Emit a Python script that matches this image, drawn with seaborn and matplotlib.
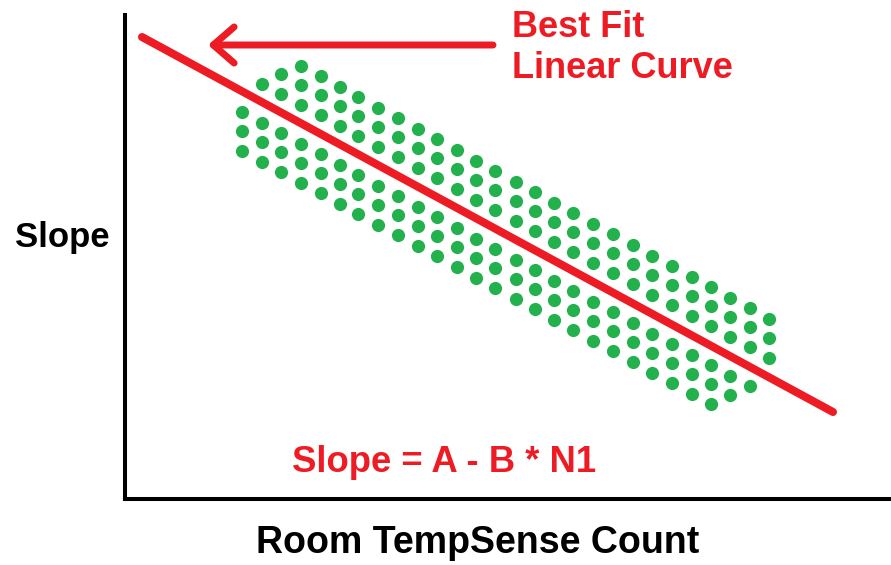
import numpy as np
import pandas as pd
import seaborn as sns
import matplotlib.pyplot as plt

RED = '#ED1C24'
GREEN = '#22B14C'

# dot band, one entry per column (pixel units)
col_x = [242, 262, 281, 301, 321, 340, 358, 378, 398, 418, 437, 457, 476, 495,
         516, 535, 554, 573, 593, 613, 633, 652, 672, 692, 711, 730, 750, 769]
col_mid = [92, 103, 113, 124, 134, 145, 155, 166, 176, 187, 197, 208, 219, 229,
           240, 250, 261, 271, 282, 292, 303, 314, 324, 335, 345, 356, 366, 377]
n_above = [0, 1, 2] + [3] * 25
n_below = [3] * 25 + [2, 1, 0]
row_step = 19.5

# best fit line end points
fit_x = [142, 833]
fit_y = [37, 412]

# arrow pointing to the line
arrow_tail = (493, 45)
arrow_tip = (208, 45)

# axes origin in the picture
X0, Y0 = 125, 499


def to_data(px, py):
    return px - X0, Y0 - py


righe = []
for x, m, na, nb in zip(col_x, col_mid, n_above, n_below):
    for k in range(-na, nb + 1):
        if k == 0:
            continue  # this row sits under the red line
        righe.append(to_data(x, m + k * row_step))
dots = pd.DataFrame(righe, columns=['count', 'slope'])

fit = pd.DataFrame({'count': [x - X0 for x in fit_x],
                    'slope': [Y0 - y for y in fit_y]})

sns.set_style('white')
plt.rcParams['font.family'] = ['Liberation Sans', 'DejaVu Sans']

fig = plt.figure(figsize=(8.91, 5.65), dpi=100)
ax = fig.add_axes([X0 / 891, (565 - Y0) / 565, (891 - X0) / 891, (Y0 - 15) / 565])
ax.set_xlim(0, 891 - X0)
ax.set_ylim(0, Y0 - 15)

sns.scatterplot(data=dots, x='count', y='slope', color=GREEN, s=90,
                linewidth=0, ax=ax, zorder=2)
sns.lineplot(data=fit, x='count', y='slope', color=RED, lw=5.8,
             solid_capstyle='round', ax=ax, zorder=3)

ax.annotate('', xy=to_data(*arrow_tip), xytext=to_data(*arrow_tail),
            arrowprops=dict(arrowstyle='->,head_length=1.5,head_width=1.3',
                            color=RED, lw=5, mutation_scale=10,
                            shrinkA=0, shrinkB=0,
                            capstyle='round', joinstyle='round'))

tx, ty = to_data(512, 37)
ax.text(tx, ty, 'Best Fit', color=RED, fontsize=26, fontweight='bold',
        ha='left', va='baseline')
tx, ty = to_data(512, 78)
ax.text(tx, ty, 'Linear Curve', color=RED, fontsize=26, fontweight='bold',
        ha='left', va='baseline')
tx, ty = to_data(292, 472)
ax.text(tx, ty, 'Slope = A - B * N1', color=RED, fontsize=26.3, fontweight='bold',
        ha='left', va='baseline')

sns.despine(ax=ax)
for lato in ['left', 'bottom']:
    ax.spines[lato].set_linewidth(2.9)
    ax.spines[lato].set_color('black')
ax.set_xticks([])
ax.set_yticks([])

ax.set_xlabel('Room TempSense Count', fontsize=27, fontweight='bold', color='black')
ax.xaxis.label.set_va('baseline')
ax.xaxis.set_label_coords((477.5 - X0) / (891 - X0), (Y0 - 553) / (Y0 - 15))
ax.set_ylabel('Slope', rotation=0, fontsize=25, fontweight='bold', color='black')
ax.yaxis.label.set_ha('left')
ax.yaxis.label.set_va('baseline')
ax.yaxis.set_label_coords((15 - X0) / (891 - X0), (Y0 - 247) / (Y0 - 15))

fig.savefig('out.png', dpi=100)
